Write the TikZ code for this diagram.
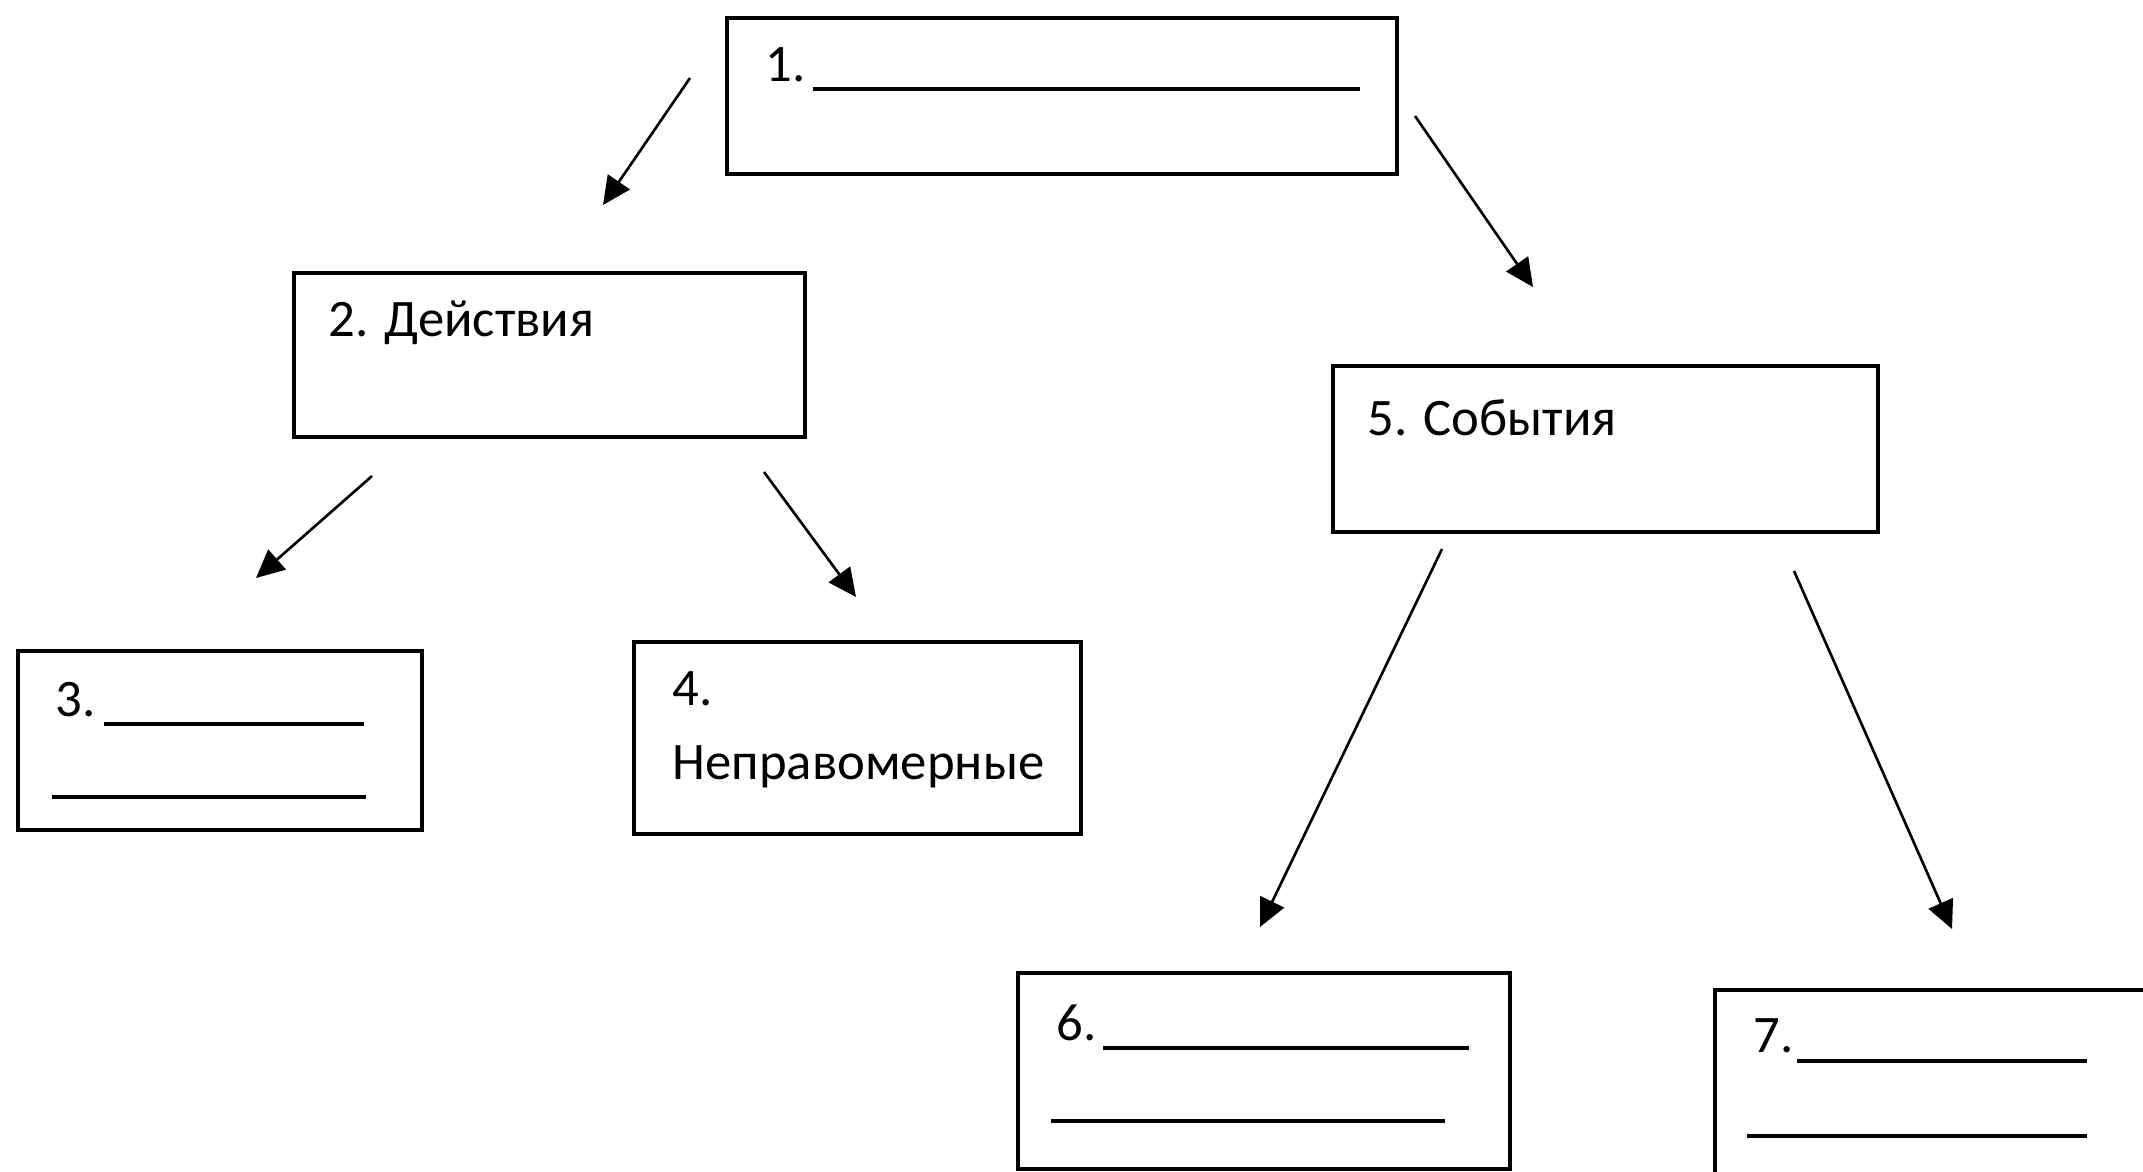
\documentclass[tikz,border=0pt]{standalone}
\usepackage{fontspec}
\setmainfont{Carlito}
\usepackage{tikz}
\usetikzlibrary{arrows.meta, positioning, calc}

\begin{document}
\begin{tikzpicture}[
    box/.style={rectangle, draw, line width=0.95pt, inner sep=0pt},
    txt/.style={anchor=base west, inner sep=0pt, font=\fontsize{15}{18}\selectfont},
    blank/.style={line width=0.9pt},
    arrow/.style={line width=0.75pt, -{Triangle[length=8pt,width=7.5pt]}}
]
\useasboundingbox (0,0) rectangle (21.43,-11.71);

\node[box, minimum width=6.70cm, minimum height=1.56cm] (b1) at (10.62,-0.96) {};
\node[box, minimum width=5.11cm, minimum height=1.64cm] (b2) at (5.495,-3.55) {};
\node[box, minimum width=4.04cm, minimum height=1.79cm] (b3) at (2.20,-7.405) {};
\node[box, minimum width=4.47cm, minimum height=1.92cm] (b4) at (8.575,-7.38) {};
\node[box, minimum width=5.45cm, minimum height=1.66cm] (b5) at (16.055,-4.49) {};
\node[box, minimum width=4.92cm, minimum height=1.96cm] (b6) at (12.64,-10.71) {};
\node[box, minimum width=4.65cm, minimum height=2.10cm] (b7) at (19.475,-10.95) {};

% labels
\node[txt] (t1) at (7.65,-0.81) {1.};
\node[txt] (t2) at (3.28,-3.36) {2. Действия};
\node[txt] (t3) at (0.55,-7.16) {3.};
\node[txt] (t4a) at (6.72,-7.05) {4.};
\node[txt] (t4b) at (6.72,-7.79) {Неправомерные};
\node[txt] (t5) at (13.67,-4.35) {5. События};
\node[txt] (t6) at (10.56,-10.40) {6.};
\node[txt] (t7) at (17.53,-10.52) {7.};

% blanks
\draw[blank] (8.13,-0.89) -- (13.60,-0.89);
\draw[blank] (1.04,-7.24) -- (3.64,-7.24);
\draw[blank] (0.52,-7.97) -- (3.66,-7.97);
\draw[blank] (11.03,-10.48) -- (14.69,-10.48);
\draw[blank] (10.51,-11.21) -- (14.45,-11.21);
\draw[blank] (17.97,-10.61) -- (20.87,-10.61);
\draw[blank] (17.47,-11.36) -- (20.87,-11.36);

% arrows
\coordinate (a12s) at (6.90,-0.78);
\coordinate (a12e) at (6.03,-2.05);
\coordinate (a15s) at (14.15,-1.16);
\coordinate (a15e) at (15.33,-2.87);
\coordinate (a23s) at (3.72,-4.76);
\coordinate (a23e) at (2.56,-5.78);
\coordinate (a24s) at (7.64,-4.72);
\coordinate (a24e) at (8.56,-5.97);
\coordinate (a56s) at (14.42,-5.49);
\coordinate (a56e) at (12.60,-9.27);
\coordinate (a57s) at (17.94,-5.71);
\coordinate (a57e) at (19.52,-9.29);

\draw[arrow] (a12s) -- (a12e);
\draw[arrow] (a15s) -- (a15e);
\draw[arrow] (a23s) -- (a23e);
\draw[arrow] (a24s) -- (a24e);
\draw[arrow] (a56s) -- (a56e);
\draw[arrow] (a57s) -- (a57e);
\end{tikzpicture}
\end{document}
